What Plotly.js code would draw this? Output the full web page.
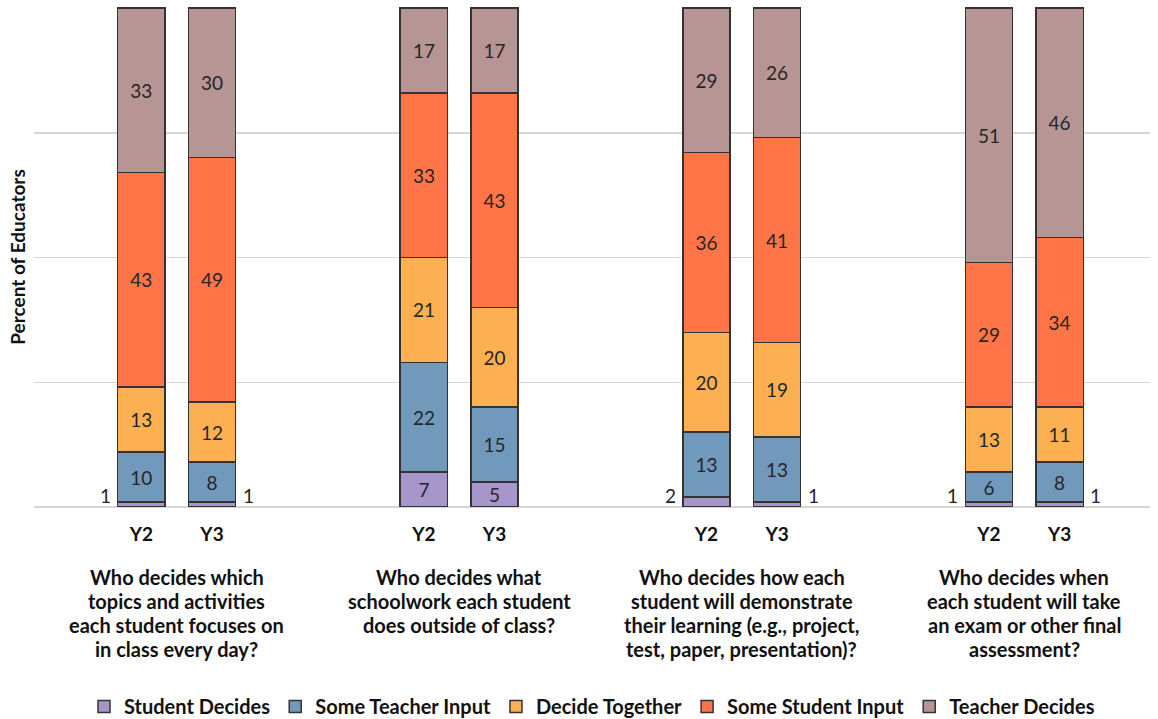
<!DOCTYPE html>
<html>
<head>
<meta charset="utf-8">
<script src="https://cdn.plot.ly/plotly-3.0.1.min.js"></script>
<style>html,body{margin:0;padding:0;background:#fff;}#chart{width:1158px;height:719px;}</style>
</head>
<body>
<div id="chart"></div>
<script>
const groupLabels = [
  ["Who decides which", "topics and activities", "each student focuses on", "in class every day?"],
  ["Who decides what", "schoolwork each student", "does outside of class?"],
  ["Who decides how each", "student will demonstrate", "their learning (e.g., project,", "test, paper, presentation)?"],
  ["Who decides when", "each student will take", "an exam or other final", "assessment?"]
];
const years = ["Y2", "Y3"];
const seriesNames = ["Student Decides", "Some Teacher Input", "Decide Together", "Some Student Input", "Teacher Decides"];
// values per bar in order: G1Y2, G1Y3, G2Y2, G2Y3, G3Y2, G3Y3, G4Y2, G4Y3
const studentDecides    = [1, 1, 7, 5, 2, 1, 1, 1];
const someTeacherInput  = [10, 8, 22, 15, 13, 13, 6, 8];
const decideTogether    = [13, 12, 21, 20, 20, 19, 13, 11];
const someStudentInput  = [43, 49, 33, 43, 36, 41, 29, 34];
const teacherDecides    = [33, 30, 17, 17, 29, 26, 51, 46];

const seriesValues = [studentDecides, someTeacherInput, decideTogether, someStudentInput, teacherDecides];
const colors = ["#A796C9", "#7099BB", "#FDB052", "#FF7547", "#B89595"];

const groupGap = 4, barWidth = 0.67;
const xs = [], tickText = [];
groupLabels.forEach((g, gi) => years.forEach((y, yi) => { xs.push(gi * groupGap + yi); tickText.push(y); }));

const FONT = "Lato, 'Open Sans', sans-serif";
const traces = seriesNames.map((name, si) => ({
  type: "bar",
  name: name,
  x: xs,
  y: seriesValues[si],
  width: barWidth,
  text: seriesValues[si].map(v => v > 2 ? String(v) : ""),
  textposition: "inside",
  insidetextanchor: "middle",
  textangle: 0,
  constraintext: "none",
  textfont: {family: FONT, size: 19, color: "#262626"},
  marker: {color: colors[si], line: {color: "#333333", width: 1.5}},
  hoverinfo: "skip"
}));

const plotTop = 8, plotBottom = 507, plotH = plotBottom - plotTop;
const annotations = [];
studentDecides.forEach((v, i) => {
  if (v <= 2) {
    const isY2 = (i % 2) === 0;
    annotations.push({
      x: xs[i] + (isY2 ? -barWidth / 2 : barWidth / 2), y: 0,
      xref: "x", yref: "y",
      text: String(v), showarrow: false,
      xanchor: isY2 ? "right" : "left", yanchor: "bottom",
      xshift: isY2 ? -5 : 5, yshift: -2,
      font: {family: FONT, size: 19, color: "#262626"}
    });
  }
});
const labelY = (plotBottom - 577) / plotH;
groupLabels.forEach((lines, gi) => {
  lines.forEach((line, li) => {
    annotations.push({
      x: gi * groupGap + 0.5, y: labelY,
      xref: "x", yref: "paper",
      text: "<b>" + line + "</b>", showarrow: false,
      xanchor: "center", yanchor: "middle", align: "center",
      yshift: -24 * li,
      font: {family: FONT, size: 20, color: "#111"}
    });
  });
});

const layout = {
  width: 1158, height: 719,
  margin: {l: 34, r: 8, t: plotTop - 1, b: 719 - plotBottom, autoexpand: false},
  barmode: "stack",
  showlegend: true,
  legend: {orientation: "h", x: 0.5, xanchor: "center", y: (plotBottom - 706) / plotH, yanchor: "middle",
           font: {family: FONT, size: 20, color: "#111", weight: "bold"}, traceorder: "normal"},
  xaxis: {
    range: [-1.52, 3 * groupGap + 1 + 1.28],
    tickvals: xs, ticktext: tickText.map(t => "<b>" + t + "</b>"),
    tickfont: {family: FONT, size: 19, color: "#111"},
    showgrid: false, zeroline: false, showline: false, ticks: "",
    ticklabelstandoff: 14
  },
  yaxis: {
    range: [0, 100.2], tickvals: [0, 25, 50, 75, 100],
    showticklabels: false, ticks: "",
    showgrid: true, gridcolor: "#D6D6D6", gridwidth: 1.5,
    zeroline: true, zerolinecolor: "#D6D6D6", zerolinewidth: 1.5, showline: false,
    title: {text: "<b>Percent of Educators</b>", font: {family: FONT, size: 19, color: "#111"}, standoff: 2}
  },
  annotations: annotations,
  plot_bgcolor: "#fff", paper_bgcolor: "#fff",
  hovermode: false
};

Plotly.newPlot("chart", traces, layout, {displayModeBar: false, staticPlot: true});
</script>
</body>
</html>
